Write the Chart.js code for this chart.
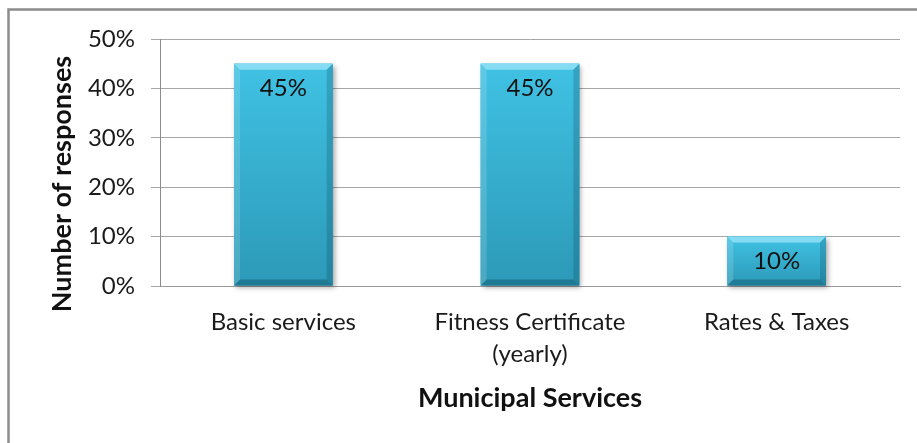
<!DOCTYPE html>
<html>
<head>
<meta charset="utf-8">
<title>Municipal Services</title>
<script src="https://cdn.jsdelivr.net/npm/chart.js@4/dist/chart.umd.min.js"></script>
<style>
  html, body { margin: 0; padding: 0; background: #fff; }
  #wrap { position: absolute; left: 0; top: 0; width: 917px; height: 443px; }
</style>
</head>
<body>
<div id="wrap"><canvas id="servicesChart" width="917" height="443"></canvas></div>
<script>
// survey results
const services = ['Basic services', ['Fitness Certificate', '(yearly)'], 'Rates & Taxes'];
const responses = [45, 45, 10];
const yMax = 50;
const yStep = 10;

const FONT = 'Lato, "Open Sans", sans-serif';

function poly(ctx, pts, fill) {
    ctx.beginPath();
    ctx.moveTo(pts[0][0], pts[0][1]);
    for (let i = 1; i < pts.length; i++) ctx.lineTo(pts[i][0], pts[i][1]);
    ctx.closePath();
    ctx.fillStyle = fill;
    ctx.fill();
}

// grey frame along the top and left edge
const frame = {
    id: 'frame',
    beforeDraw(chart) {
        const ctx = chart.ctx;
        ctx.save();
        ctx.strokeStyle = '#8c8c8c';
        ctx.lineWidth = 2.5;
        ctx.beginPath();
        ctx.moveTo(8.5, 443);
        ctx.lineTo(8.5, 9.5);
        ctx.lineTo(917, 9.5);
        ctx.stroke();
        ctx.restore();
    }
};

// y axis title, drawn by hand so it can sit a bit lower than the plot centre
const yTitle = {
    id: 'yTitle',
    afterDraw(chart) {
        const ctx = chart.ctx;
        ctx.save();
        ctx.translate(62, 184);
        ctx.rotate(-Math.PI / 2);
        ctx.font = 'bold 27px ' + FONT;
        ctx.fillStyle = '#111';
        ctx.textAlign = 'center';
        ctx.textBaseline = 'middle';
        ctx.fillText('Number of responses', 0, 0);
        ctx.restore();
    }
};

// bevelled bars with a soft shadow, plus the value labels
const bevelBars = {
    id: 'bevelBars',
    afterDatasetsDraw(chart) {
        const ctx = chart.ctx;
        const meta = chart.getDatasetMeta(0);
        meta.data.forEach((bar, i) => {
            const p = bar.getProps(['x', 'y', 'base', 'width'], true);
            const l = p.x - p.width / 2, r = p.x + p.width / 2;
            const t = p.y, b = p.base;
            const bv = 6;

            ctx.save();
            ctx.shadowColor = 'rgba(0,0,0,0.35)';
            ctx.shadowBlur = 5;
            ctx.shadowOffsetX = 2;
            ctx.shadowOffsetY = 2;
            const g = ctx.createLinearGradient(0, t, 0, b);
            g.addColorStop(0, '#40c2e4');
            g.addColorStop(1, '#2c99b7');
            ctx.fillStyle = g;
            ctx.fillRect(l, t, r - l, b - t);
            ctx.restore();

            ctx.save();
            poly(ctx, [[l, t], [r, t], [r - bv, t + bv], [l + bv, t + bv]], '#86ddf3');
            poly(ctx, [[l, t], [l + bv, t + bv], [l + bv, b - bv], [l, b]], 'rgba(255,255,255,0.15)');
            poly(ctx, [[r, t], [r, b], [r - bv, b - bv], [r - bv, t + bv]], 'rgba(0,50,70,0.2)');
            poly(ctx, [[l, b], [r, b], [r - bv, b - bv], [l + bv, b - bv]], 'rgba(0,50,70,0.3)');

            ctx.font = '24px ' + FONT;
            ctx.fillStyle = '#111';
            ctx.textAlign = 'center';
            ctx.textBaseline = 'middle';
            ctx.fillText(responses[i] + '%', p.x, t + 25);
            ctx.restore();
        });
    }
};

const ctx = document.getElementById('servicesChart').getContext('2d');

new Chart(ctx, {
    type: 'bar',
    data: {
        labels: services,
        datasets: [{
            label: 'Number of responses',
            data: responses,
            backgroundColor: '#35aed0',
            borderWidth: 0,
            barPercentage: 0.8,
            categoryPercentage: 0.5
        }]
    },
    options: {
        responsive: false,
        animation: false,
        layout: { padding: { top: 39, right: 17, left: 0, bottom: 0 } },
        plugins: {
            legend: { display: false },
            tooltip: { enabled: false }
        },
        scales: {
            x: {
                grid: { display: false },
                border: { display: true, color: '#9a9a9a', width: 1 },
                ticks: {
                    color: '#1a1a1a',
                    font: { family: FONT, size: 24, lineHeight: 1.35 },
                    padding: 12
                },
                title: {
                    display: true,
                    text: 'Municipal Services',
                    color: '#111',
                    font: { family: FONT, size: 27, weight: 'bold' },
                    padding: { top: 0, bottom: 29 }
                },
                afterFit(scale) { scale.height = 157; }
            },
            y: {
                min: 0,
                max: yMax,
                grid: { color: '#a6a6a6', lineWidth: 1, tickLength: 9 },
                border: { display: true, color: '#8c8c8c', width: 1 },
                ticks: {
                    stepSize: yStep,
                    color: '#1a1a1a',
                    padding: 16,
                    font: { family: FONT, size: 24 },
                    callback: (v) => v + '%'
                },
                afterFit(scale) { scale.width = 160; }
            }
        }
    },
    plugins: [frame, bevelBars, yTitle]
});
</script>
</body>
</html>
